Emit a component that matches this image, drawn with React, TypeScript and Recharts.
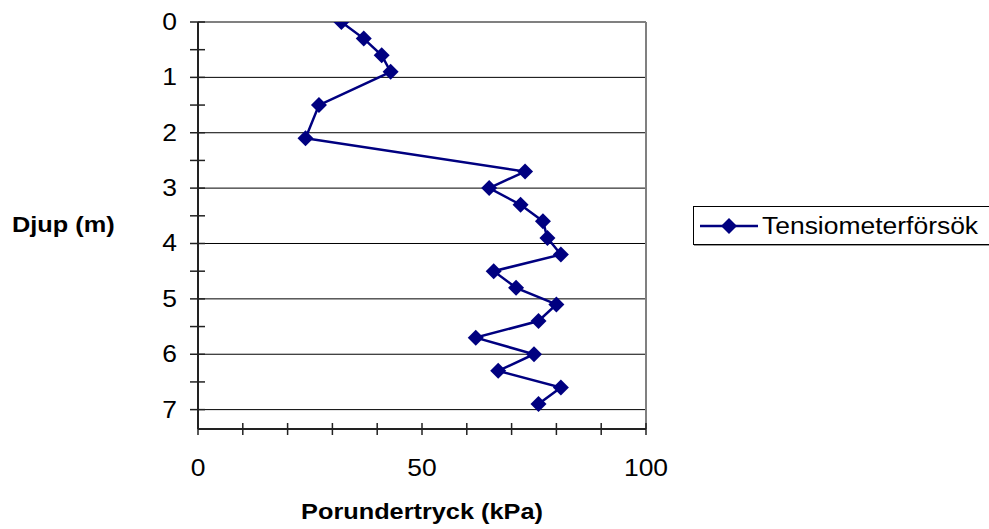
import React from 'react';
import { LineChart, Line, XAxis, YAxis, ReferenceLine } from 'recharts';

// Djup (m) och porundertryck (kPa)
const depths = [0, 0.3, 0.6, 0.9, 1.5, 2.1, 2.7, 3.0, 3.3, 3.6, 3.9, 4.2, 4.5, 4.8, 5.1, 5.4, 5.7, 6.0, 6.3, 6.6, 6.9];
const pressures = [32, 37, 41, 43, 27, 24, 73, 65, 72, 77, 78, 81, 66, 71, 80, 76, 62, 75, 67, 81, 76];

const depthTicks = [0, 0.5, 1, 1.5, 2, 2.5, 3, 3.5, 4, 4.5, 5, 5.5, 6, 6.5, 7];
const gridDepths = [1, 2, 3, 4, 5, 6, 7];
const pressureTicks = [0, 10, 20, 30, 40, 50, 60, 70, 80, 90, 100];
const pressureLabels = [0, 50, 100];

const seriesName = 'Tensiometerförsök';
const navy = '#000080';
const SX = 1.15;

const data = depths.map((d, i) => ({ depth: d, pressure: pressures[i] }));

const Diamond = (props: any) => {
    const { cx, cy, index } = props;
    if (cx == null || cy == null) return null;
    const r = 8;
    return (
        <polygon key={'d' + index} points={`${cx},${cy - r} ${cx + r},${cy} ${cx},${cy + r} ${cx - r},${cy}`} fill={navy} />
    );
};

const YTick = (props: any) => {
    const { x, y, payload } = props;
    const v = payload.value;
    return (
        <g>
            <line x1={x - 8} x2={x + 7} y1={y} y2={y} stroke="#222" strokeWidth={1.5} />
            {Number.isInteger(v) && (
                <text transform={`translate(${x - 21},${y + 8}) scale(${SX},1)`} textAnchor="end" fontSize={23} fill="#000">
                    {v}
                </text>
            )}
        </g>
    );
};

const XTick = (props: any) => {
    const { x, y, payload } = props;
    const v = payload.value;
    return (
        <g>
            <line x1={x} x2={x} y1={y - 6} y2={y + 6} stroke="#222" strokeWidth={1.5} />
            {pressureLabels.includes(v) && (
                <text transform={`translate(${x},${y + 47}) scale(${SX},1)`} textAnchor="middle" fontSize={23} fill="#000">
                    {v}
                </text>
            )}
        </g>
    );
};

export default function App() {
    return (
        <div style={{ position: 'absolute', left: 0, top: 0, width: 989, height: 529, background: '#fff', fontFamily: '"Liberation Sans", Arial, sans-serif', overflow: 'hidden' }}>
            <LineChart width={989} height={529} data={data} layout="vertical" margin={{ top: 22, right: 343, bottom: 0, left: 0 }}>
                <XAxis type="number" domain={[0, 100]} ticks={pressureTicks} interval={0} height={100} tickSize={0} tickMargin={0}
                    tick={<XTick />} axisLine={{ stroke: '#222', strokeWidth: 2 }} tickLine={false} />
                <YAxis type="number" dataKey="depth" domain={[0, 7.35]} ticks={depthTicks} interval={0} width={198}
                    tickSize={0} tickMargin={0} tick={<YTick />} axisLine={{ stroke: '#222', strokeWidth: 2 }} tickLine={false} allowDataOverflow />
                <ReferenceLine y={0} stroke="#808080" strokeWidth={2} />
                {gridDepths.map((g) => (
                    <ReferenceLine key={g} y={g} stroke="#000" strokeWidth={1} />
                ))}
                <ReferenceLine x={100} stroke="#808080" strokeWidth={2} />
                <Line dataKey="pressure" name={seriesName} stroke={navy} strokeWidth={2.5} dot={<Diamond />} isAnimationActive={false} />
            </LineChart>

            <div style={{ position: 'absolute', left: 12, top: 212, fontSize: 22, fontWeight: 'bold', transform: `scaleX(${SX})`, transformOrigin: 'left center', whiteSpace: 'nowrap' }}>
                Djup (m)
            </div>
            <div style={{ position: 'absolute', left: 222, width: 400, top: 499, fontSize: 22, fontWeight: 'bold', textAlign: 'center', transform: `scaleX(${SX})`, transformOrigin: 'center center', whiteSpace: 'nowrap' }}>
                Porundertryck (kPa)
            </div>

            <div style={{ position: 'absolute', left: 693, top: 206, width: 310, height: 39, border: '1px solid #000', boxShadow: '1px 1px 0 #999', boxSizing: 'border-box' }}>
                <svg width={62} height={39} style={{ position: 'absolute', left: 6, top: 0 }}>
                    <line x1={0} x2={58} y1={19} y2={19} stroke={navy} strokeWidth={2.5} />
                    <polygon points="29,11 37,19 29,27 21,19" fill={navy} />
                </svg>
                <div style={{ position: 'absolute', left: 68, top: 6, fontSize: 23, transform: `scaleX(${SX})`, transformOrigin: 'left center', whiteSpace: 'nowrap' }}>
                    {seriesName}
                </div>
            </div>
        </div>
    );
}
